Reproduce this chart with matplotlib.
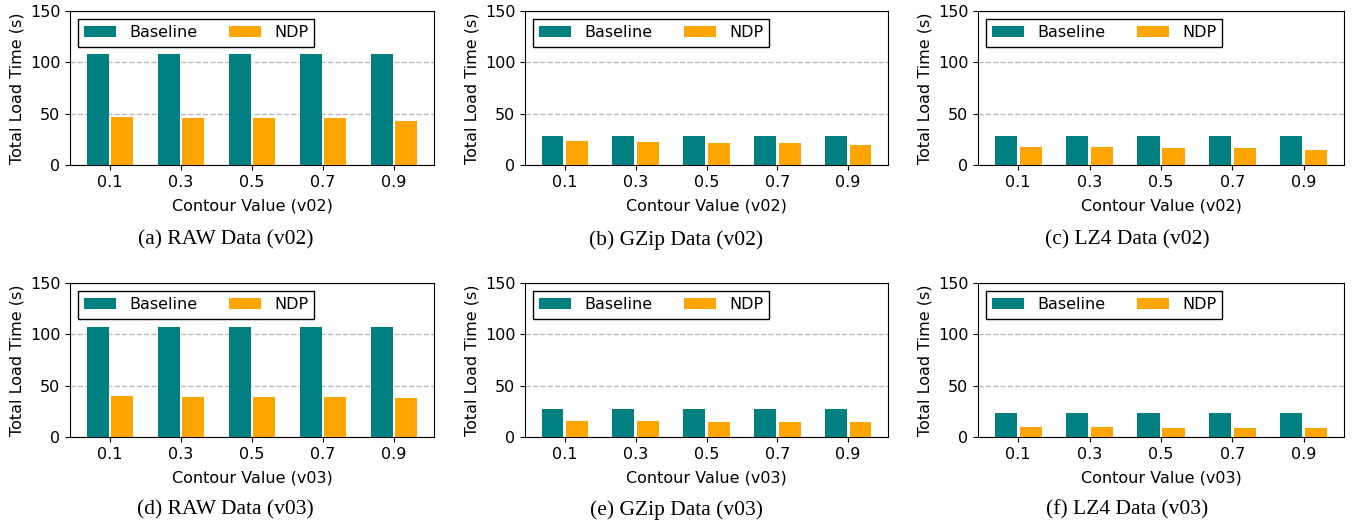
import numpy as np
import matplotlib
matplotlib.use('Agg')
import matplotlib.pyplot as plt

# ====== 数据 ======
contour = ['0.1', '0.3', '0.5', '0.7', '0.9']

raw_v02_base = [108.3, 108.3, 108.3, 108.3, 108.3]
raw_v02_ndp = [47.2, 46.2, 46.2, 45.3, 43.3]
gzip_v02_base = [27.8, 27.8, 27.8, 27.8, 27.8]
gzip_v02_ndp = [23.0, 22.0, 21.0, 21.0, 19.0]
lz4_v02_base = [27.8, 27.8, 27.8, 27.8, 27.8]
lz4_v02_ndp = [17.1, 17.1, 16.2, 16.2, 14.2]

raw_v03_base = [106.9, 106.9, 106.9, 106.9, 106.9]
raw_v03_ndp = [39.8, 38.9, 38.9, 38.9, 37.9]
gzip_v03_base = [27.2, 27.2, 27.2, 27.2, 27.2]
gzip_v03_ndp = [15.5, 15.5, 14.6, 14.6, 14.6]
lz4_v03_base = [23.3, 23.3, 23.3, 23.3, 23.3]
lz4_v03_ndp = [9.7, 9.7, 8.7, 8.7, 8.7]

captions = ['(a) RAW Data (v02)', '(b) GZip Data (v02)', '(c) LZ4 Data (v02)',
            '(d) RAW Data (v03)', '(e) GZip Data (v03)', '(f) LZ4 Data (v03)']
xlabels = ['Contour Value (v02)'] * 3 + ['Contour Value (v03)'] * 3

panels = [
    (raw_v02_base, raw_v02_ndp), (gzip_v02_base, gzip_v02_ndp), (lz4_v02_base, lz4_v02_ndp),
    (raw_v03_base, raw_v03_ndp), (gzip_v03_base, gzip_v03_ndp), (lz4_v03_base, lz4_v03_ndp),
]

plt.rcParams['font.family'] = 'DejaVu Sans'
plt.rcParams['font.size'] = 11.5

W, H = 1353, 529
fig = plt.figure(figsize=(W / 100, H / 100), dpi=100)

# 每个子图的像素位置 (left, right, top, bottom)
cols = [(70, 434), (525, 888), (978, 1344)]
rows = [(11, 165), (283, 437)]
cap_y = [240, 510]

width = 0.31
offset = 0.175
x = np.arange(len(contour))

for i, (base, ndp) in enumerate(panels):
    r, c = divmod(i, 3)
    l, rr = cols[c]
    t, b = rows[r]
    ax = fig.add_axes([l / W, 1 - b / H, (rr - l) / W, (b - t) / H])
    ax.bar(x - offset, base, width, color='#008080', label='Baseline', zorder=3)
    ax.bar(x + offset, ndp, width, color='#FFA500', label='NDP', zorder=3)
    ax.set_ylim(0, 150)
    ax.set_yticks([0, 50, 100, 150])
    ax.set_xticks(x)
    ax.set_xticklabels(contour)
    ax.set_xlabel(xlabels[i], labelpad=6)
    ax.set_ylabel('Total Load Time (s)')
    ax.yaxis.grid(True, linestyle='--', color='#bbbbbb', linewidth=1, zorder=0)
    ax.set_axisbelow(True)
    leg = ax.legend(loc='upper left', ncol=2, fancybox=False, edgecolor='black',
                    framealpha=1, handlelength=2.0, columnspacing=2.0)
    leg.get_frame().set_linewidth(1.0)
    # 子图标题居中于每一列 (整幅图的三等分)
    fig.text((c + 0.5) / 3, 1 - cap_y[r] / H, captions[i], ha='center', va='center',
             family='Liberation Serif', fontsize=15.5)

fig.savefig('out.png', dpi=100)
